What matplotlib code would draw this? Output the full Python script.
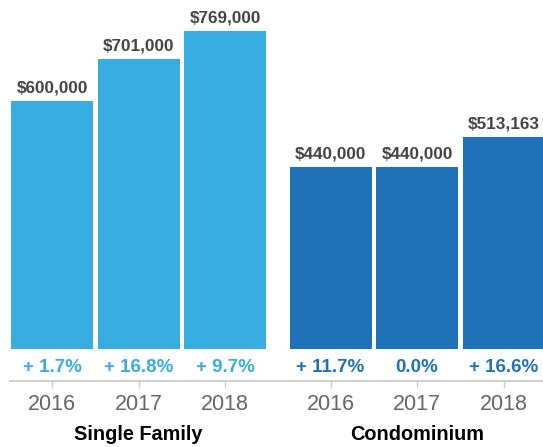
import matplotlib
matplotlib.use("Agg")
import matplotlib.pyplot as plt

plt.rcParams['font.family'] = ['Liberation Sans', 'DejaVu Sans']

groups = ["Single Family", "Condominium"]
years = ["2016", "2017", "2018"]
single_family = [600000, 701000, 769000]
condominium = [440000, 440000, 513163]
sf_change = ["+ 1.7%", "+ 16.8%", "+ 9.7%"]
condo_change = ["+ 11.7%", "0.0%", "+ 16.6%"]

sf_color = "#38ADE2"
condo_color = "#1F72B8"

fig = plt.figure(figsize=(5.43, 4.47), dpi=100)
ax = fig.add_axes([10/543, 66/447, 533/543, 381/447])

group_offset = 3.22
positions = [[0, 1, 2], [group_offset + i for i in range(3)]]
values = [single_family, condominium]
changes = [sf_change, condo_change]
colors = [sf_color, condo_color]

width = 0.948
xticks, xlabels = [], []
for g in range(2):
    ax.bar(positions[g], values[g], width=width, color=colors[g], linewidth=0)
    for x, v, c in zip(positions[g], values[g], changes[g]):
        ax.annotate(f"${v:,.0f}", (x, v), xytext=(0, 6.5), textcoords="offset points",
                    ha="center", va="baseline", fontsize=12.3, fontweight="bold", color="#444444")
        ax.text(x, -46000, c, ha="center", va="center", fontsize=13.5,
                fontweight="bold", color=colors[g])
    xticks += positions[g]
    xlabels += years
    ax.text(positions[g][1], -0.14, groups[g], transform=ax.get_xaxis_transform(),
            ha="center", va="center", fontsize=14.3, fontweight="bold", color="black")

ax.set_xlim(-0.486, 5.676)
ax.set_ylim(-77500, 845000)
ax.set_xticks(xticks)
ax.set_xticklabels(xlabels, fontsize=15.5, color="#666666")
ax.tick_params(axis="x", length=5, width=1, color="#cccccc", pad=4)
ax.set_yticks([])
for s in ["top", "right", "left"]:
    ax.spines[s].set_visible(False)
ax.spines["bottom"].set_color("#cccccc")
ax.spines["bottom"].set_linewidth(1.3)

fig.savefig("out.png", dpi=100)
